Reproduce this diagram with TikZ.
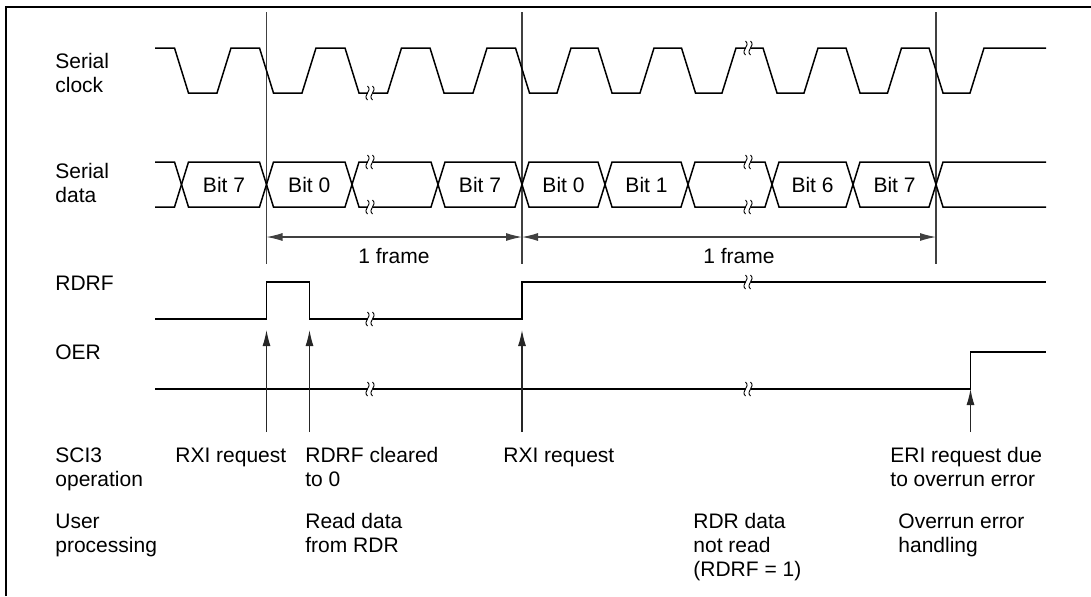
\documentclass[tikz,border=0pt]{standalone}
\usepackage{fontspec}
\setmainfont{Liberation Sans}
\usetikzlibrary{arrows.meta}

\tikzset{
  wave/.style={line width=0.75pt},
  guide/.style={line width=0.55pt, black!75},
  evt/.style={line width=0.55pt, black!85, -{Latex[length=8pt,width=4pt]}},
  dim/.style={guide, {Latex[length=8pt,width=4pt]}-{Latex[length=8pt,width=4pt]}},
  lbl/.style={anchor=base west, inner sep=0pt, align=left},
  brk/.pic={
    \fill[white] (-2.5,-6) rectangle (2.5,6);
    \draw[line width=0.45pt] (-2.5,-7) .. controls (3,-2) and (-8,2) .. (-2.5,7);
    \draw[line width=0.45pt] (2.5,-7) .. controls (8,-2) and (-3,2) .. (2.5,7);
  }
}

\begin{document}
\begin{tikzpicture}[x=0.5pt, y=-0.5pt, font=\fontsize{10.5}{12}\selectfont]
  \useasboundingbox (0,0) rectangle (1091,596);
  \draw[line width=1pt] (6,596) -- (6,7) -- (1091,7);

  % guide lines and frame lengths
  \foreach \x in {266.5, 522, 936}
    \draw[guide] (\x,12) -- (\x,264);
  \coordinate (fa) at (266.5,237);
  \coordinate (fb) at (522,237);
  \coordinate (fc) at (936,237);
  \draw[dim] (fa) -- (fb);
  \draw[dim] (fb) -- (fc);
  \node[anchor=base, inner sep=0pt] (frame1) at (394,263) {1 frame};
  \node[anchor=base, inner sep=0pt] (frame2) at (739,263) {1 frame};

  % serial clock
  \draw[wave] (155,48)
    foreach \f/\r in {181.5/224, 266.5/309, 352/394.5, 437/480, 522.5/564,
                      605/647, 688.5/729, 770/811, 853/894.5, 936/977}
      { -- (\f-7,48) -- (\f+7,93) -- (\r-7,93) -- (\r+7,48) }
    -- (1046,48);
  \pic at (370,93) {brk};
  \pic at (748,48) {brk};

  % serial data
  \draw[wave] (155,162) -- (174.5,162) -- (181.5,184.5) -- (174.5,207) -- (155,207);
  \foreach \a/\b/\t [count=\i] in {181.5/266.5/Bit 7, 266.5/352/Bit 0, 352/438/,
                                   438/522/Bit 7, 522/605/Bit 0, 605/688/Bit 1,
                                   688/772/, 772/853/Bit 6, 853/936/Bit 7}
  {
    \draw[wave] (\a,184.5) -- (\a+7,162) -- (\b-7,162) -- (\b,184.5)
                -- (\b-7,207) -- (\a+7,207) -- cycle;
    \node[inner sep=0pt] (cell\i) at ({(\a+\b)/2},184.5) {\t};
  }
  \draw[wave] (1046,162) -- (943,162) -- (936,184.5) -- (943,207) -- (1046,207);
  \pic at (370,162) {brk};
  \pic at (370,207) {brk};
  \pic at (748,162) {brk};
  \pic at (748,207) {brk};

  % RDRF and OER
  \draw[wave] (155,319) -- (266.5,319) -- (266.5,282) -- (309.5,282) -- (309.5,319)
    -- (522,319) -- (522,282) -- (1046,282);
  \pic at (370,319) {brk};
  \pic at (748,282) {brk};
  \draw[wave] (155,389) -- (970.5,389) -- (970.5,352) -- (1046,352);
  \pic at (370,389) {brk};
  \pic at (748,389) {brk};

  % events
  \coordinate (rxi1) at (266.5,330);
  \coordinate (clr) at (309.5,330);
  \coordinate (rxi2) at (522,330);
  \coordinate (eri) at (970.5,389);
  \draw[evt] (266.5,432) -- (rxi1);
  \draw[evt] (309.5,432) -- (clr);
  \draw[evt] (522,432) -- (rxi2);
  \draw[evt] (970.5,432) -- (eri);

  % labels (base = last line)
  \node[lbl] (sclk) at (55,92) {Serial\\clock};
  \node[lbl] (sdat) at (55,202) {Serial\\data};
  \node[lbl] (rdrf) at (55,290) {RDRF};
  \node[lbl] (oer) at (55,359) {OER};
  \node[lbl] (sci) at (55,486) {SCI3\\operation};
  \node[lbl] (user) at (55,552) {User\\processing};
  \node[lbl] (t1) at (175,462) {RXI request};
  \node[lbl] (t2) at (305,486) {RDRF cleared\\to 0};
  \node[lbl] (t3) at (503,462) {RXI request};
  \node[lbl] (t4) at (890,486) {ERI request due\\to overrun error};
  \node[lbl] (u1) at (305,552) {Read data\\from RDR};
  \node[lbl] (u2) at (693,576) {RDR data\\not read\\(RDRF = 1)};
  \node[lbl] (u3) at (898,552) {Overrun error\\handling};
\end{tikzpicture}
\end{document}
